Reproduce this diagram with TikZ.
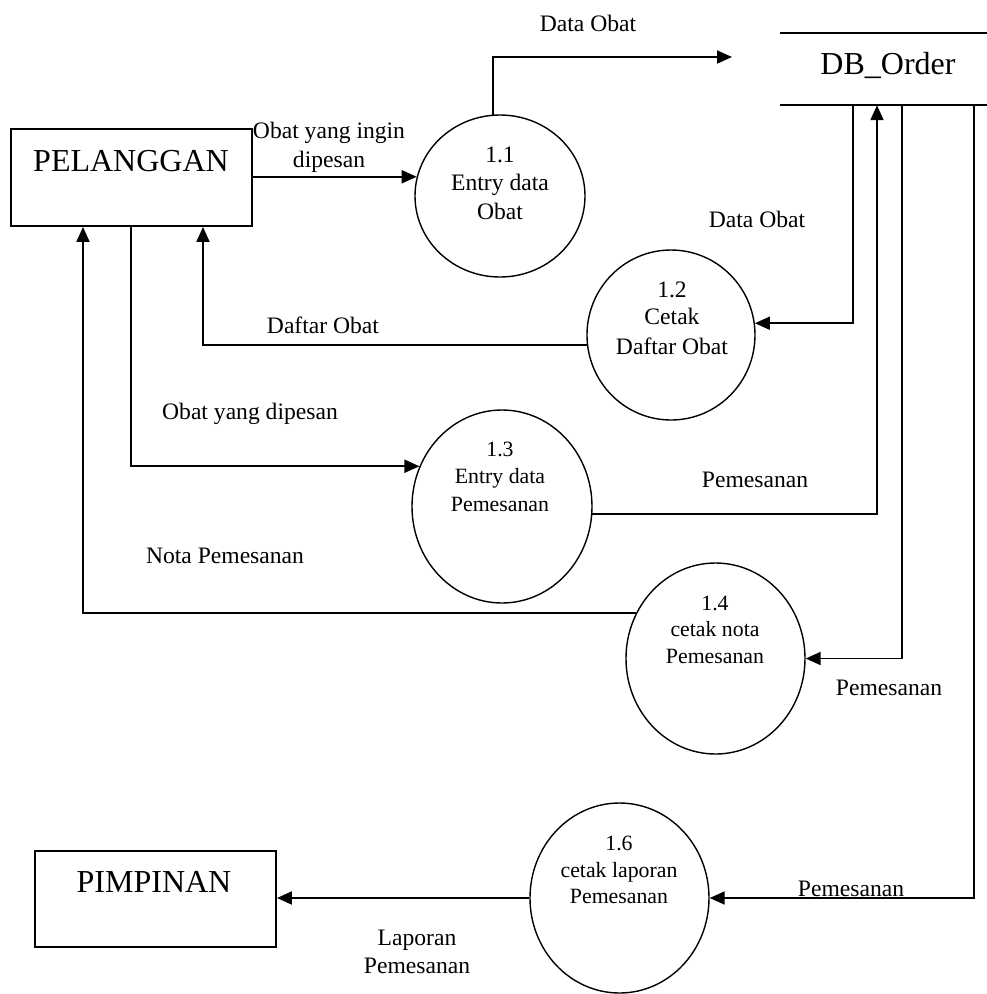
\documentclass[tikz,border=0pt]{standalone}
\usepackage{fontspec}
\setmainfont{Liberation Serif}
\usetikzlibrary{arrows.meta,shapes.geometric}

\newcommand\lblfont{\fontsize{23.6}{28}\selectfont}
\newcommand\namefont{\fontsize{32}{38}\selectfont}
\newcommand\procfont{\fontsize{23.6}{28}\selectfont}
\newcommand\procsmall{\fontsize{21.8}{26}\selectfont}

\begin{document}
\begin{tikzpicture}[x=1pt,y=-1pt,
  entity/.style={draw, line width=1.9pt, rectangle, minimum width=241pt,
                 minimum height=97pt, inner sep=0pt},
  process/.style={draw, line width=1.4pt, ellipse, inner sep=0pt},
  store/.style={rectangle, inner sep=0pt, minimum width=207pt, minimum height=72pt},
  flow/.style={line width=1.9pt, -{Triangle[length=15pt,width=13pt]}},
  plain/.style={line width=1.9pt},
  txt/.style={inner sep=0pt, anchor=base, font=\lblfont},
  ptxt/.style={inner sep=0pt, anchor=base, font=\procfont},
  stxt/.style={inner sep=0pt, anchor=base, font=\procsmall},
  ntxt/.style={inner sep=0pt, anchor=base, font=\namefont}]

\fill[white] (0,0) rectangle (987,994);
\useasboundingbox (0,0) rectangle (987,994);

% external entities
\node[entity] (pel) at (131.2,177.5) {};
\node[ntxt] (pelt) at (131,171) {PELANGGAN};
\node[entity, minimum height=96pt] (pim) at (155.5,899) {};
\node[ntxt] (pimt) at (154,892) {PIMPINAN};

% data store
\node[store] (db) at (883.5,69) {};
\draw[plain] (db.north west) -- (db.north east);
\draw[plain] (db.south west) -- (db.south east);
\node[ntxt] (dbt) at (888,74) {DB\_Order};

% processes
\node[process, minimum width=170pt, minimum height=162pt] (p11) at (500,196) {};
\node[ptxt] (p11a) at (500,162) {1.1};
\node[ptxt] (p11b) at (500,190) {Entry data};
\node[ptxt] (p11c) at (500,219) {Obat};

\node[process, minimum width=168pt, minimum height=170pt] (p12) at (671,335) {};
\node[ptxt] (p12a) at (672,297) {1.2};
\node[ptxt] (p12b) at (672,324) {Cetak};
\node[ptxt] (p12c) at (672,354) {Daftar Obat};

\node[process, minimum width=180pt, minimum height=193pt] (p13) at (502,506.5) {};
\node[stxt] (p13a) at (500,456) {1.3};
\node[stxt] (p13b) at (500,483) {Entry data};
\node[stxt] (p13c) at (500,511) {Pemesanan};

\node[process, minimum width=179pt, minimum height=191pt] (p14) at (715.5,658.5) {};
\node[stxt] (p14a) at (715,610) {1.4};
\node[stxt] (p14b) at (715,636) {cetak nota};
\node[stxt] (p14c) at (715,663) {Pemesanan};

\node[process, minimum width=179pt, minimum height=190pt] (p16) at (619.5,898) {};
\node[stxt] (p16a) at (619,850) {1.6};
\node[stxt] (p16b) at (619,877) {cetak laporan};
\node[stxt] (p16c) at (619,903) {Pemesanan};

% columns of the vertical flow segments
\coordinate (colA) at (83,0);
\coordinate (colB) at (131,0);
\coordinate (colC) at (203,0);
\coordinate (colD) at (853,0);
\coordinate (colE) at (877,0);
\coordinate (colF) at (902,0);
\coordinate (colG) at (974,0);
\coordinate (dbin) at (732,57);

% data flows
\draw[flow] (pel.east |- p11.167.05) -- (p11.167.05);
\draw[flow] (p11.95.67) |- (dbin);
\draw[flow] (db.south -| colD) |- (p12.8.21);
\draw[flow] (p12.187.52) -| (pel.south -| colC);
\draw[flow] (pel.south -| colB) |- (p13.154.99);
\draw[flow] (p13.355.22) -| (db.south -| colE);
\draw[flow] (db.south -| colF) |- (p14.east);
\draw[flow] (p14.150.67) -| (pel.south -| colA);
\draw[flow] (db.south -| colG) |- (p16.east);
\draw[flow] (p16.west) -- (pim.east |- p16.west);

% flow labels
\node[txt] (l1) at (588,31) {Data Obat};
\node[txt] (l2a) at (329,138) {Obat yang ingin};
\node[txt] (l2b) at (329,167) {dipesan};
\node[txt] (l3) at (757,227) {Data Obat};
\node[txt] (l4) at (323,333) {Daftar Obat};
\node[txt] (l5) at (250,419) {Obat yang dipesan};
\node[txt] (l6) at (755,487) {Pemesanan};
\node[txt] (l7) at (225,563) {Nota Pemesanan};
\node[txt] (l8) at (889,695) {Pemesanan};
\node[txt] (l9) at (851,896) {Pemesanan};
\node[txt] (l10a) at (417,945) {Laporan};
\node[txt] (l10b) at (417,973) {Pemesanan};
\end{tikzpicture}
\end{document}
